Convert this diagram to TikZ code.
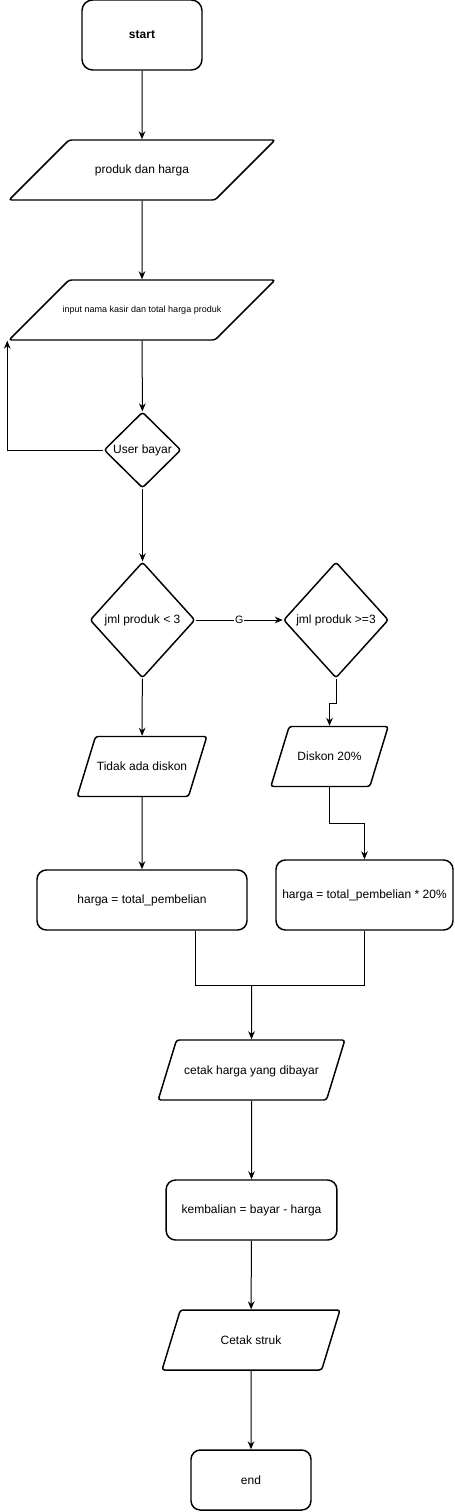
\documentclass[tikz,border=0pt]{standalone}
\usepackage{fontspec}
\setmainfont{Liberation Sans}
\usetikzlibrary{shapes.geometric,arrows.meta,calc}
\begin{document}
\begin{tikzpicture}[x=0.75pt,y=-0.75pt,
  box/.style={draw,line width=1.1pt,rounded corners=7pt,inner sep=2pt,
    font=\fontsize{9}{11}\selectfont},
  io/.style={draw,line width=1.1pt,trapezium,trapezium left angle=73,
    trapezium right angle=107,trapezium stretches body,rounded corners=2pt,
    inner xsep=1pt,inner ysep=0pt,text height=25.5pt,text depth=19.5pt,
    font=\fontsize{9}{11}\selectfont},
  cond/.style={draw,line width=1.1pt,diamond,rounded corners=2pt,inner sep=0pt,
    font=\fontsize{9}{11}\selectfont},
  arr/.style={line width=0.75pt,-{Stealth[length=6pt,width=5pt]}}]
  \useasboundingbox (0,0) rectangle (454,1512);
  \node[box,minimum width=90pt,minimum height=52.5pt,rounded corners=8pt,font=\fontsize{9}{11}\selectfont\bfseries] (A) at (142,35) {start};
  \node[io,trapezium left angle=45,trapezium right angle=135,minimum width=199.5pt] (B) at (142,170) {produk dan harga};
  \node[io,trapezium left angle=45,trapezium right angle=135,minimum width=199.5pt,inner xsep=-15pt,font=\fontsize{6.75}{8}\selectfont,text height=24.5pt,text depth=20.5pt] (C) at (142,310) {input nama kasir dan total harga produk};
  \node[cond,minimum width=57.75pt,minimum height=57pt] (D) at (142.5,450) {User bayar};
  \node[cond,minimum width=78.75pt,minimum height=87pt] (E) at (142.5,620) {jml produk < 3};
  \node[cond,minimum width=78.75pt,minimum height=87pt] (F) at (336,620) {jml produk >=3};
  \node[io,minimum width=88.5pt] (G) at (142,766.5) {Tidak ada diskon};
  \node[io,minimum width=88pt] (H) at (329.5,756.5) {Diskon 20\%};
  \node[box,minimum width=157.5pt,minimum height=45pt] (I) at (142,900) {harga = total\_pembelian};
  \node[box,minimum width=132.75pt,minimum height=52.5pt] (J) at (364.5,895) {harga = total\_pembelian * 20\%};
  \node[io,minimum width=140pt] (K) at (251.5,1070) {cetak harga yang dibayar};
  \node[box,minimum width=128pt,minimum height=45pt] (L) at (251.5,1210) {kembalian = bayar - harga};
  \node[io,minimum width=133.5pt] (M) at (251,1340) {Cetak struk};
  \node[box,minimum width=90pt,minimum height=45pt] (N) at (251,1480) {end};
  \coordinate (X) at (251.5,985);
  \draw[arr] (A) -- (B);
  \draw[arr] (B) -- (C);
  \draw[arr] (C) -- (D);
  \draw[arr] (D.west) -| (C.bottom left corner);
  \draw[arr] (D) -- (E);
  \draw[arr] (E.east) -- node[fill=white,inner sep=0.5pt,font=\fontsize{8}{9}\selectfont] {G} (F.west);
  \draw[arr] (E) -- (G);
  \draw[arr] (F.south) -- ++(0,25) -| (H.north);
  \draw[arr] (H.south) -- ++(0,36) -| (J.north);
  \draw[arr] (G) -- (I);
  \draw ($(I.south)!0.5!(I.south east)$) |- (X) -| (J.south);
  \draw[arr] (X) -- (K.north);
  \draw[arr] (K) -- (L);
  \draw[arr] (L) -- (M);
  \draw[arr] (M) -- (N);
\end{tikzpicture}
\end{document}
